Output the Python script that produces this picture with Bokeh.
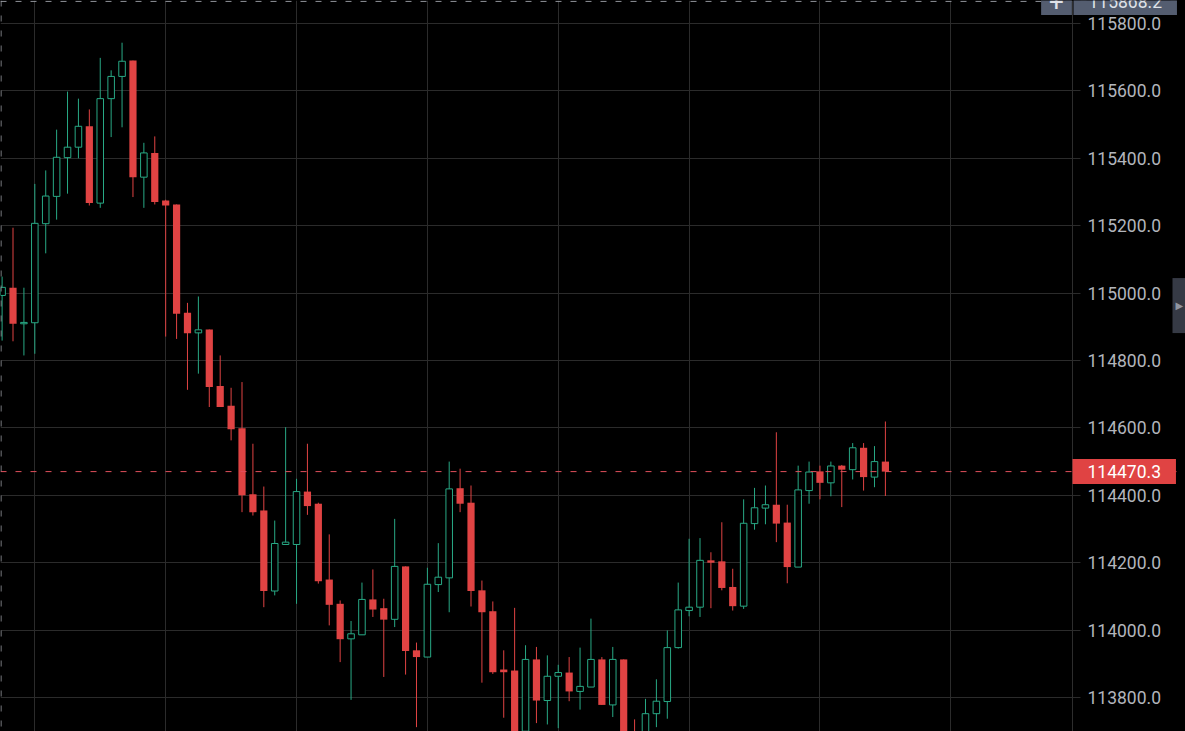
from bokeh.plotting import figure
from bokeh.models import (Range1d, FixedTicker, PrintfTickFormatter, Span, Label,
                          ColumnDataSource, BoxAnnotation)
from bokeh.embed import file_html
from bokeh.resources import INLINE

# ---------------- data ----------------
opens = [114993, 115016, 114909, 114912, 115206, 115287, 115402, 115433, 115495, 115267,
         115577, 115643, 115690, 115344, 115416, 115275, 115263, 114942, 114882, 114892,
         114724, 114666, 114599, 114403, 114355, 114116, 114254, 114254, 114411, 114375,
         114150, 114078, 113974, 113986, 114091, 114065, 114032, 114189, 113940, 113920,
         114135, 114155, 114421, 114378, 114118, 114056, 113883, 113880, 113700, 113913,
         113791, 113863, 113874, 113818, 113831, 113913, 113778, 113913, 113700, 113690,
         113752, 113788, 113948, 114058, 114068, 114207, 114204, 114128, 114071, 114316,
         114362, 114372, 114319, 114187, 114414, 114471, 114437, 114488, 114476, 114541,
         114454, 114500]
highs = [115049, 115194, 115016, 115324, 115364, 115485, 115598, 115577, 115545, 115698,
         115661, 115743, 115690, 115446, 115465, 115277, 115263, 114971, 114990, 114892,
         114815, 114719, 114736, 114553, 114426, 114325, 114602, 114449, 114553, 114378,
         114284, 114088, 114027, 114141, 114180, 114093, 114330, 114189, 113963, 114185,
         114258, 114500, 114479, 114429, 114147, 114085, 113940, 114066, 113955, 113950,
         113925, 113897, 113920, 113948, 114034, 113920, 113950, 113913, 113735, 113796,
         113854, 113999, 114141, 114271, 114273, 114231, 114320, 114182, 114388, 114422,
         114429, 114587, 114372, 114488, 114500, 114488, 114500, 114490, 114555, 114555,
         114546, 114619]
lows = [114859, 114857, 114815, 114820, 115118, 115218, 115295, 115400, 115260, 115253,
        115463, 115492, 115285, 115253, 115263, 114871, 114864, 114713, 114761, 114662,
        114662, 114563, 114350, 114340, 114068, 114103, 114254, 114078, 114342, 114138,
        114014, 113905, 113793, 113986, 114039, 113861, 114009, 113868, 113712, 113920,
        114113, 114053, 114350, 114070, 113844, 113870, 113740, 113680, 113680, 113724,
        113720, 113709, 113789, 113764, 113831, 113778, 113742, 113650, 113600, 113660,
        113712, 113737, 113945, 114041, 114039, 114065, 114118, 114058, 114063, 114298,
        114314, 114261, 114139, 114187, 114375, 114388, 114397, 114365, 114447, 114414,
        114424, 114398]
closes = [115017, 114909, 114913, 115207, 115288, 115403, 115433, 115495, 115267, 115577,
          115643, 115688, 115344, 115416, 115270, 115260, 114939, 114881, 114891, 114721,
          114662, 114596, 114400, 114350, 114116, 114257, 114261, 114411, 114368, 114145,
          114075, 113973, 113989, 114091, 114061, 114031, 114189, 113938, 113920, 114136,
          114157, 114419, 114375, 114116, 114053, 113875, 113875, 113700, 113913, 113791,
          113863, 113874, 113818, 113833, 113913, 113778, 113913, 113690, 113650, 113752,
          113789, 113948, 114060, 114068, 114207, 114200, 114125, 114071, 114317, 114363,
          114372, 114316, 114187, 114416, 114469, 114437, 114487, 114476, 114541, 114454,
          114500, 114470.3]
price_ticks = [113800.0, 114000.0, 114200.0, 114400.0, 114600.0, 114800.0,
               115000.0, 115200.0, 115400.0, 115600.0, 115800.0]
time_grid = [3, 15, 27, 39, 51, 63, 75, 87]
last_price_label = "114470.3"
crosshair_price = 115868.2
crosshair_label = "115868.2"

# ---------------- geometry / style ----------------
W, H = 1185, 731
X_START, X_END = -0.1467, 108.52          # bar index at canvas left / right edge
Y_START, Y_END = 113699.1, 115868.25      # price at canvas bottom / top
AXIS_X = 98.16                            # bar index of the price-scale border
TICK_END_X = 98.89                        # bar index where tick marks end

BG = "#000000"
GRID = "#2b2b2b"
GREEN = "#28a985"
RED = "#e04343"
AXIS_TXT = "#b2b5bc"
FONT = "Roboto"
FS = "17.5px"

idx = list(range(len(opens)))
one_px = 2.97
up_i = [i for i in idx if closes[i] >= opens[i]]
dn_i = [i for i in idx if closes[i] < opens[i]]


def body(ii):
    bot = [min(opens[i], closes[i]) for i in ii]
    top = [max(max(opens[i], closes[i]), b + one_px) for i, b in zip(ii, bot)]
    return ColumnDataSource(dict(x=ii, top=top, bottom=bot,
                                 high=[highs[i] for i in ii], low=[lows[i] for i in ii]))


up_src = body(up_i)
dn_src = body(dn_i)

p = figure(width=W, height=H, output_backend="svg", toolbar_location=None,
           x_range=Range1d(X_START, X_END), y_range=Range1d(Y_START, Y_END),
           x_axis_location=None, y_axis_location="right",
           min_border_left=0, min_border_right=0, min_border_top=0, min_border_bottom=0,
           background_fill_color=BG, border_fill_color=BG, outline_line_color=None)

p.ygrid.ticker = FixedTicker(ticks=price_ticks)
p.xgrid.ticker = FixedTicker(ticks=time_grid)
p.ygrid.grid_line_color = GRID
p.xgrid.grid_line_color = GRID

# price scale area: hide the grid right of the tick marks
p.add_layout(BoxAnnotation(left=TICK_END_X, fill_color=BG, fill_alpha=1.0,
                           line_color=None, level="underlay"))
# price-scale border line
p.add_layout(Span(location=AXIS_X, dimension="height", line_color="#2e2e2e", line_width=1))

ax = p.yaxis[0]
ax.ticker = FixedTicker(ticks=price_ticks)
ax.formatter = PrintfTickFormatter(format="%.1f")
ax.axis_line_color = None
ax.major_tick_line_color = None
ax.minor_tick_line_color = None
ax.major_tick_out = 0
ax.major_tick_in = 0
ax.major_label_standoff = -98
ax.major_label_text_color = AXIS_TXT
ax.major_label_text_font = FONT
ax.major_label_text_font_size = FS

# wicks
p.segment(x0="x", y0="low", x1="x", y1="high", source=up_src, line_color=GREEN, line_width=1)
p.segment(x0="x", y0="low", x1="x", y1="high", source=dn_src, line_color=RED, line_width=1)
# bodies
p.vbar(x="x", width=0.6, top="top", bottom="bottom", source=up_src,
       fill_color=BG, line_color=GREEN, line_width=1)
p.vbar(x="x", width=0.66, top="top", bottom="bottom", source=dn_src,
       fill_color=RED, line_color=None)

# last price line
p.add_layout(Span(location=closes[-1], dimension="width", line_color="#e0505c",
                  line_width=1, line_dash="6 9"))
# crosshair lines
p.add_layout(Span(location=crosshair_price - 2.5, dimension="width", line_color="#9a9da4",
                  line_width=1, line_dash="6 9"))
p.add_layout(Span(location=-0.1, dimension="height", line_color="#9a9da4",
                  line_width=1, line_dash="6 9"))

# last price label on the price scale (x is the box's left edge)
p.add_layout(Label(x=1072, y=closes[-1], x_units="screen", y_units="data",
                   text=last_price_label, text_align="left", text_baseline="middle",
                   text_color="#ffffff", text_font=FONT, text_font_size=FS,
                   background_fill_color=RED, padding=(15, 6)))
# crosshair price label (top, partly outside the window as in the reference)
p.add_layout(Label(x=1073, y=crosshair_price - 3, x_units="screen", y_units="data",
                   text=crosshair_label, text_align="left", text_baseline="middle",
                   text_color="#dfe2e8", text_font=FONT, text_font_size=FS,
                   background_fill_color="#545d70", padding=(15, 7)))
p.add_layout(Label(x=1056, y=crosshair_price - 3, x_units="screen", y_units="data",
                   text="+", text_align="center", text_baseline="middle",
                   text_color="#dfe2e8", text_font=FONT, text_font_size="26px",
                   background_fill_color="#545d70", padding=(8, 4)))
# right-side collapse handle
p.add_layout(Label(x=1172, y=114963, x_units="screen", y_units="data",
                   text="\u25b6", text_align="left", text_baseline="middle",
                   text_color="#9095a0", text_font="DejaVu Sans", text_font_size="10px",
                   background_fill_color="#363a45", padding=(3, 22)))

TEMPLATE = """{% block preamble %}<style>html, body { background-color: #000000; }</style>{% endblock %}"""
open("out.html", "w").write(file_html(p, INLINE, title="chart", template=TEMPLATE))
